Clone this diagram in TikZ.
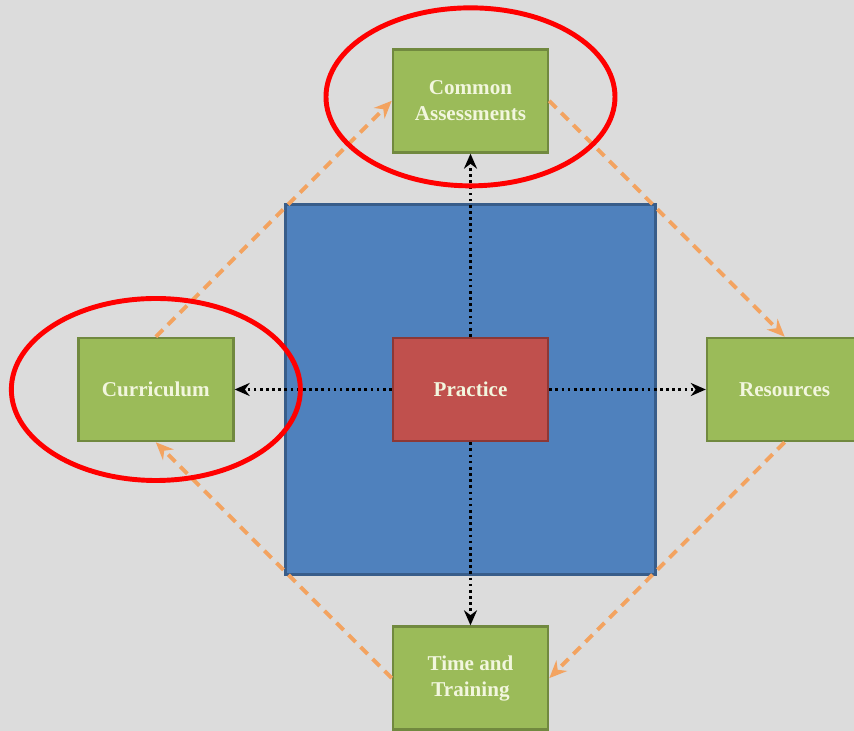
\documentclass[tikz,border=0pt]{standalone}
\usepackage{fontspec}
\setmainfont{Liberation Serif}
\usepackage{tikz}
\usetikzlibrary{positioning,shapes,arrows.meta}
\definecolor{bggray}{RGB}{220,220,220}
\definecolor{boxgreen}{RGB}{155,187,89}
\definecolor{boxgreenline}{RGB}{113,137,63}
\definecolor{boxred}{RGB}{192,80,77}
\definecolor{boxredline}{RGB}{140,56,54}
\definecolor{boxblue}{RGB}{79,129,189}
\definecolor{boxblueline}{RGB}{56,93,138}
\definecolor{flowor}{RGB}{243,163,96}
\definecolor{boxtext}{RGB}{242,246,222}

\begin{document}
\begin{tikzpicture}[
area/.style={rectangle, draw=boxgreenline, line width=1.5pt, fill=boxgreen, minimum width=3.1cm, minimum height=2.06cm, text=boxtext, font=\fontsize{12}{14.7}\selectfont\bfseries, align=center},
core/.style={area, draw=boxredline, fill=boxred},
field/.style={rectangle, draw=boxblueline, line width=1.2pt, fill=boxblue, minimum size=7.4cm},
flow/.style={flowor, line width=2.2pt, dash pattern=on 0.2cm off 0.14cm, -{Stealth[length=3.5mm, width=3mm]}},
link/.style={black, line width=1.6pt, dash pattern=on 1.5pt off 2pt, -{Stealth[length=3mm, width=2.6mm]}},
ring/.style={red, line width=2.8pt},
]

%Background
\path[use as bounding box, clip] (-9.41,-6.83) rectangle (7.67,7.79);
\fill[bggray] (-9.41,-6.83) rectangle (7.67,7.79);

\node[field] (field) at (0,0) {};
\node[core] (practice) at (0,0) {Practice};
\node[area] (assess) [above=3.66cm of practice] {Common\\Assessments};
\node[area] (curric) [left=3.14cm of practice] {Curriculum};
\node[area] (resour) [right=3.13cm of practice] {Resources};
\node[area] (train) [below=3.66cm of practice] {Time and\\Training};

%Draw lines
%Outer cycle
\draw[flow] (curric.north) -- (assess.west);
\draw[flow] (assess.east) -- (resour.north);
\draw[flow] (resour.south) -- (train.east);
\draw[flow] (train.west) -- (curric.south);

%Practice links
\draw[link] (practice.north) -- (assess.south);
\draw[link] (practice.west) -- (curric.east);
\draw[link] (practice.east) -- (resour.west);
\draw[link] (practice.south) -- (train.north);

%Highlights
\draw[ring] ([yshift=0.08cm]assess.center) ellipse [x radius=2.89cm, y radius=1.78cm];
\draw[ring] (curric.center) ellipse [x radius=2.89cm, y radius=1.82cm];
\end{tikzpicture}
\end{document}
